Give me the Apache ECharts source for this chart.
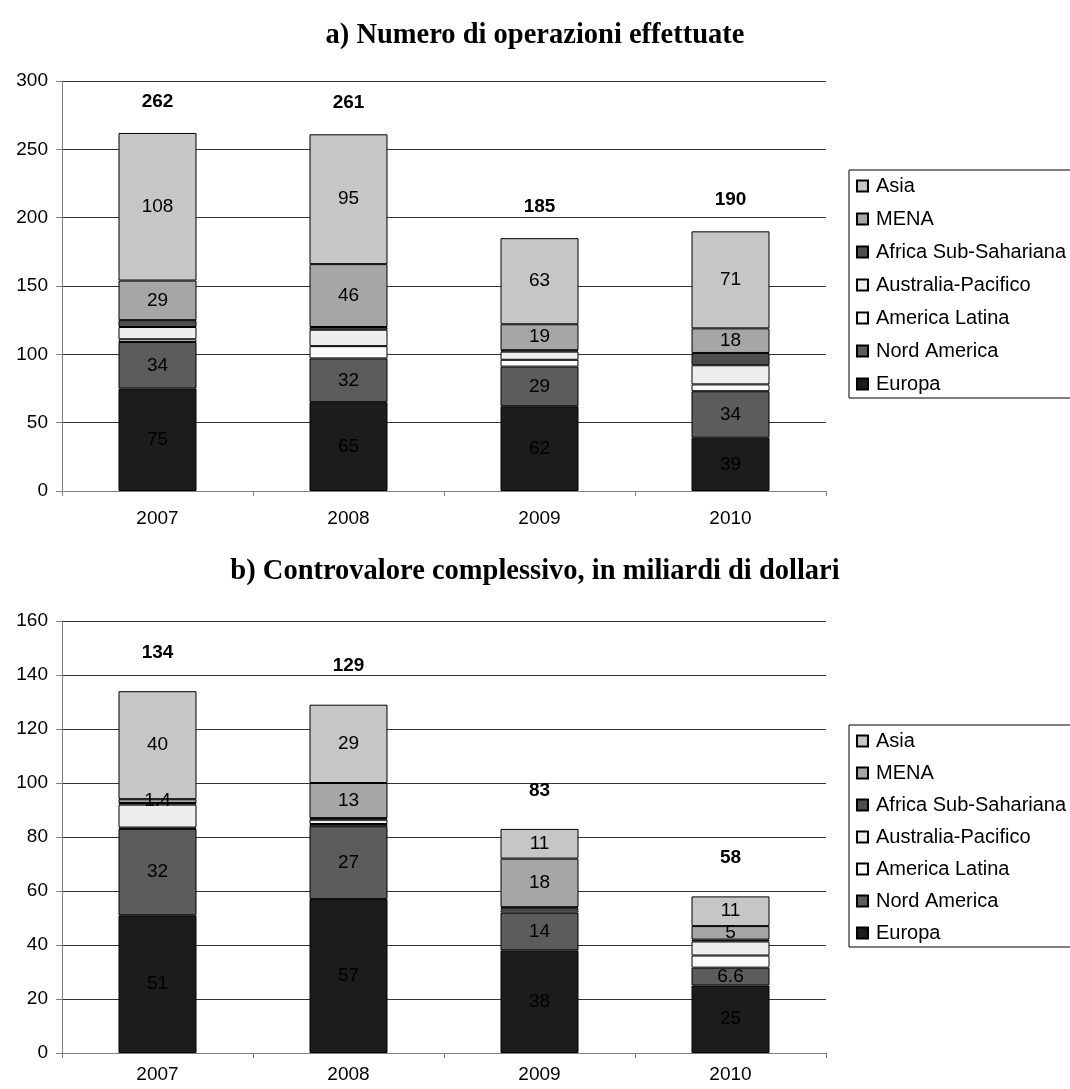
<!DOCTYPE html>
<html>
<head>
<meta charset="utf-8">
<script src="https://cdn.jsdelivr.net/npm/echarts@6/dist/echarts.min.js"></script>
<style>
  html, body { margin: 0; padding: 0; background: #fff; }
  #chart { width: 1070px; height: 1089px; }
</style>
</head>
<body>
<div id="chart"></div>
<script>
// Years on the category axis
const categories = ['2007', '2008', '2009', '2010'];

// Regions, stacked from the bottom up
const regions = ['Europa', 'Nord America', 'America Latina', 'Australia-Pacifico', 'Africa Sub-Sahariana', 'MENA', 'Asia'];
// Which regions carry a value label inside the bar
const labelledRegions = ['Europa', 'Nord America', 'MENA', 'Asia'];

// a) Number of deals
const dealsEuropa = [75, 65, 62, 39];
const dealsNordAmerica = [34, 32, 29, 34];
const dealsAmericaLatina = [2, 9, 5, 5];
const dealsAustraliaPacifico = [9, 12, 6, 14];
const dealsAfrica = [5, 2, 1, 9];
const dealsMena = [29, 46, 19, 18];
const dealsAsia = [108, 95, 63, 71];
const dealsTotal = [262, 261, 185, 190];

// b) Total value, billions of dollars
const valueEuropa = [51, 57, 38, 25];
const valueNordAmerica = [32, 27, 14, 6.6];
const valueAmericaLatina = [0.5, 0.8, 0.8, 4.5];
const valueAustraliaPacifico = [8.5, 1.6, 0.8, 5.2];
const valueAfrica = [0.6, 0.6, 0.4, 0.7];
const valueMena = [1.4, 13, 18, 5];
const valueAsia = [40, 29, 11, 11];
const valueTotal = [134, 129, 83, 58];

const titleA = 'a) Numero di operazioni effettuate';
const titleB = 'b) Controvalore complessivo, in miliardi di dollari';

const regionColors = {
  'Europa': '#1c1c1c',
  'Nord America': '#5c5c5c',
  'America Latina': '#fafafa',
  'Australia-Pacifico': '#eeeeee',
  'Africa Sub-Sahariana': '#4e4e4e',
  'MENA': '#a6a6a6',
  'Asia': '#c6c6c6'
};

const dealsByRegion = [dealsEuropa, dealsNordAmerica, dealsAmericaLatina, dealsAustraliaPacifico, dealsAfrica, dealsMena, dealsAsia];
const valueByRegion = [valueEuropa, valueNordAmerica, valueAmericaLatina, valueAustraliaPacifico, valueAfrica, valueMena, valueAsia];

const sans = 'Liberation Sans, Arial, sans-serif';
const serif = 'Liberation Serif, Times New Roman, serif';

function stackSeries(valuesByRegion, gridIndex) {
  return regions.map((name, i) => ({
    name: name,
    type: 'bar',
    stack: 'total' + gridIndex,
    xAxisIndex: gridIndex,
    yAxisIndex: gridIndex,
    barWidth: 78,
    data: valuesByRegion[i],
    itemStyle: { color: regionColors[name], borderColor: '#000', borderWidth: 1 },
    label: {
      show: labelledRegions.includes(name),
      position: 'inside',
      color: '#000',
      fontFamily: sans,
      fontSize: 19
    },
    emphasis: { disabled: true }
  }));
}

// Bold totals written above each stack
function totalSeries(totals, gridIndex, distance) {
  return {
    type: 'scatter',
    xAxisIndex: gridIndex,
    yAxisIndex: gridIndex,
    data: totals,
    symbolSize: 0,
    z: 5,
    itemStyle: { opacity: 1, color: '#000' },
    label: {
      show: true,
      position: 'top',
      distance: distance,
      color: '#000',
      opacity: 1,
      fontFamily: sans,
      fontSize: 19,
      fontWeight: 'bold'
    },
    emphasis: { disabled: true }
  };
}

function xAxis(gridIndex, margin) {
  return {
    type: 'category',
    gridIndex: gridIndex,
    data: categories,
    axisLine: { lineStyle: { color: '#808080', width: 1 } },
    axisTick: { show: true, alignWithLabel: false, length: 5, lineStyle: { color: '#808080' } },
    axisLabel: { color: '#000', fontFamily: sans, fontSize: 19, margin: margin }
  };
}

function yAxis(gridIndex, max, interval) {
  return {
    type: 'value',
    gridIndex: gridIndex,
    min: 0,
    max: max,
    interval: interval,
    axisLine: { show: true, lineStyle: { color: '#808080', width: 1 } },
    axisTick: { show: true, length: 6, lineStyle: { color: '#808080' } },
    axisLabel: { color: '#000', fontFamily: sans, fontSize: 19, margin: 14 },
    splitLine: { show: true, lineStyle: { color: '#333', width: 1 } }
  };
}

function legend(top, itemGap) {
  return {
    orient: 'vertical',
    left: 849,
    top: top,
    data: regions.slice().reverse(),
    icon: 'rect',
    itemWidth: 11,
    itemHeight: 11,
    itemGap: itemGap,
    padding: [6, 12, 4, 7],
    borderColor: '#000',
    borderWidth: 1,
    selectedMode: false,
    textStyle: { color: '#000', fontFamily: sans, fontSize: 20, lineHeight: 20, padding: [0, 0, 0, 3] }
  };
}

const chart = echarts.init(document.getElementById('chart'), null, { renderer: 'canvas' });
chart.setOption({
  animation: false,
  backgroundColor: '#fff',
  title: [
    { text: titleA, left: 'center', top: 16, textStyle: { fontFamily: serif, fontWeight: 'bold', fontSize: 28.5, color: '#000' } },
    { text: titleB, left: 'center', top: 552, textStyle: { fontFamily: serif, fontWeight: 'bold', fontSize: 28.5, color: '#000' } }
  ],
  legend: [legend(170, 13), legend(725, 12)],
  grid: [
    { left: 62, right: 244, top: 81, height: 410 },
    { left: 62, right: 244, top: 621, height: 432 }
  ],
  xAxis: [xAxis(0, 18), xAxis(1, 12)],
  yAxis: [yAxis(0, 300, 50), yAxis(1, 160, 20)],
  series: [
    ...stackSeries(dealsByRegion, 0),
    totalSeries(dealsTotal, 0, 22),
    ...stackSeries(valueByRegion, 1),
    totalSeries(valueTotal, 1, 29)
  ]
});
</script>
</body>
</html>
